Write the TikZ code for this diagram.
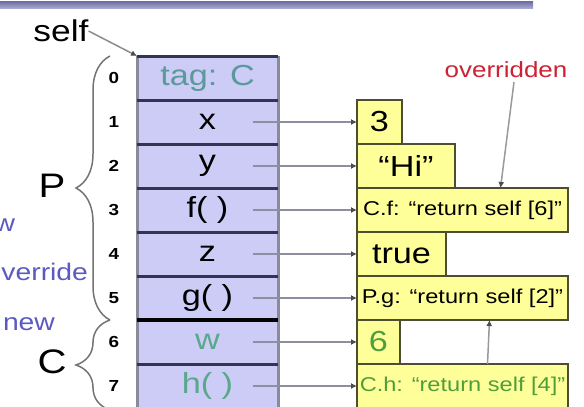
\documentclass[tikz,border=0pt]{standalone}
\usepackage{fontspec}
\setmainfont{Liberation Sans}[FakeStretch=1.18]
\usetikzlibrary{arrows.meta,positioning,decorations.pathreplacing}
\definecolor{Slot}{HTML}{CCCCF7}
\definecolor{RowLine}{HTML}{333355}
\definecolor{Frame}{HTML}{8A8A9A}
\definecolor{Val}{HTML}{FFFF99}
\definecolor{ValLine}{HTML}{4D4D33}
\definecolor{Tag}{HTML}{5A9A9A}
\definecolor{NewC}{HTML}{5AA88C}
\definecolor{NewV}{HTML}{4E9E3E}
\definecolor{Note}{HTML}{CC2233}
\definecolor{Kind}{HTML}{5A5AC0}
\definecolor{BarTop}{HTML}{6A6AA2}
\definecolor{BarBot}{HTML}{A8A8D0}
\definecolor{Wire}{HTML}{8E8EA2}
\newcommand{\fs}[1]{\fontsize{#1}{#1}\selectfont}

\begin{document}
\begin{tikzpicture}[x=1pt,y=-1pt,>={Latex[length=6pt,width=6pt,color=black!70]},
  every node/.style={align=center,inner sep=0pt,outer sep=0pt},
  slot/.style={fill=Slot,minimum width=141pt,minimum height=44pt,font=\fs{29}},
  val/.style={draw=ValLine,line width=2.5pt,fill=Val,minimum height=44pt,font=\fs{29}},
  meth/.style={val,font=\fs{20}},
  idx/.style={font=\bfseries\fs{16}},
  ptr/.style={->,draw=Wire,line width=2pt},
  rowline/.style={draw=RowLine,line width=3pt}]
  \clip (0,0) rectangle (584,407);
  \shade[top color=BarTop,bottom color=BarBot] (0,1) rectangle (533,8);

  % object layout
  \node[slot,text=Tag] (r0) at (207.5,78) {tag: C};
  \node[slot,below=0pt of r0] (r1) {x};
  \node[slot,below=0pt of r1] (r2) {y};
  \node[slot,below=0pt of r2] (r3) {f( )};
  \node[slot,below=0pt of r3] (r4) {z};
  \node[slot,below=0pt of r4] (r5) {g( )};
  \node[slot,below=0pt of r5,text=NewC] (r6) {w};
  \node[slot,below=0pt of r6,text=NewC] (r7) {h( )};
  \draw[Frame,line width=3pt] (r0.north west)--(r7.south west) (r0.north east)--(r7.south east);
  \draw[rowline](r0.north west)--(r0.north east);\draw[rowline](r0.south west)--(r0.south east);
  \draw[rowline](r1.south west)--(r1.south east);\draw[rowline](r2.south west)--(r2.south east);
  \draw[rowline](r3.south west)--(r3.south east);\draw[rowline](r4.south west)--(r4.south east);
  \draw[rowline,draw=black,line width=4pt](r5.south west)--(r5.south east);
  \draw[rowline](r6.south west)--(r6.south east);

  \node[idx,left=18pt of r0] (i0) {0};
  \node[idx,left=18pt of r1] (i1) {1};
  \node[idx,left=18pt of r2] (i2) {2};
  \node[idx,left=18pt of r3] (i3) {3};
  \node[idx,left=18pt of r4] (i4) {4};
  \node[idx,left=18pt of r5] (i5) {5};
  \node[idx,left=18pt of r6] (i6) {6};
  \node[idx,left=18pt of r7] (i7) {7};

  % values
  \node[val,minimum width=45pt,anchor=west] (v1) at (357,122) {3};
  \node[val,minimum width=98pt,below right=0pt and 0pt of v1.south west] (v2) {``Hi''};
  \node[meth,minimum width=211pt,below right=0pt and 0pt of v2.south west] (v3) {C.f: ``return self [6]''};
  \node[val,minimum width=89pt,below right=0pt and 0pt of v3.south west] (v4) {true};
  \node[meth,minimum width=211pt,below right=0pt and 0pt of v4.south west] (v5) {P.g: ``return self [2]''};
  \node[val,minimum width=43pt,below right=0pt and 0pt of v5.south west,text=NewV] (v6) {6};
  \node[meth,minimum width=211pt,below right=0pt and 0pt of v6.south west,text=NewV] (v7) {C.h: ``return self [4]''};

  \draw[ptr]([xshift=-25pt]r1.east)--(v1);\draw[ptr]([xshift=-25pt]r2.east)--(v2);
  \draw[ptr]([xshift=-25pt]r3.east)--(v3);\draw[ptr]([xshift=-25pt]r4.east)--(v4);
  \draw[ptr]([xshift=-25pt]r5.east)--(v5);\draw[ptr]([xshift=-25pt]r6.east)--(v6);
  \draw[ptr]([xshift=-25pt]r7.east)--(v7);

  \node[text=Note,font=\fs{22}] (ovr) at (506,70) {overridden};
  \draw[ptr,draw=black!40,line width=1.5pt]([xshift=8pt,yshift=-4pt]ovr.south)--([xshift=38pt]v3.north);
  \draw[ptr,draw=black!40,line width=1.5pt]([xshift=25pt]v7.north)--([xshift=27pt]v5.south);

  % self pointer and braces
  \node[font=\fs{30}] (self) at (61,31) {self};
  \draw[ptr,draw=black!45,line width=1.5pt](self.east)--(r0.north west);
  \draw[black!55,line width=1.5pt,decorate,decoration={brace,amplitude=34pt}]
    ([xshift=-27pt]r5.south west)--([xshift=-27pt]r0.north west);
  \draw[black!55,line width=1.5pt,decorate,decoration={brace,amplitude=34pt}]
    ([xshift=-27pt,yshift=-2pt]r7.south west)--([xshift=-27pt]r5.south west);
  \node[font=\fs{34}] (P) at (52,186) {P};
  \node[font=\fs{34}] (C) at (52,362) {C};

  \node[text=Kind,font=\fs{24}] (k1) at (15,225) [anchor=east] {new};
  \node[text=Kind,font=\fs{24}] (k2) at (88,272) [anchor=east] {override};
  \node[text=Kind,font=\fs{24}] (k3) at (3,324) [anchor=west] {new};
\end{tikzpicture}
\end{document}
